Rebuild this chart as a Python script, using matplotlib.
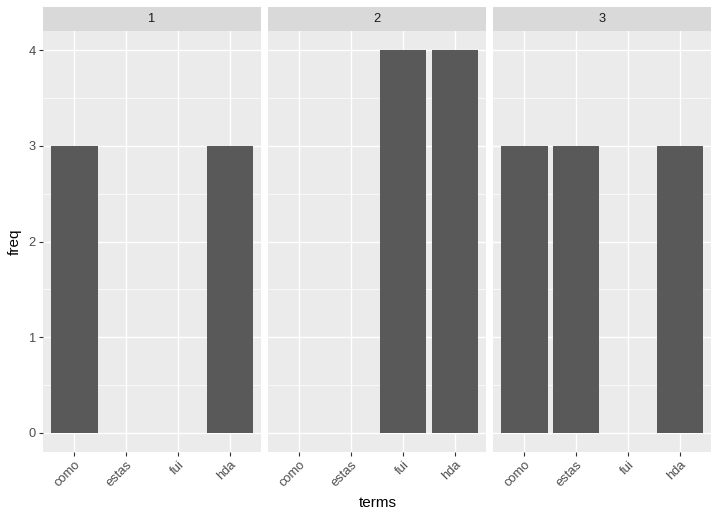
import matplotlib
matplotlib.use("Agg")
import matplotlib.pyplot as plt
import numpy as np

plt.rcParams['font.family'] = ['Liberation Sans', 'DejaVu Sans']

terms = ["como", "estas", "fui", "hda"]
panels = ["1", "2", "3"]
freq = {
    "1": [3, 0, 0, 3],
    "2": [0, 0, 4, 4],
    "3": [3, 3, 0, 3],
}

W, H = 720, 515
fig = plt.figure(figsize=(W / 100, H / 100), dpi=100)

lefts = [43, 268, 493]
pw = 218
ptop, pbot = 31, 452
strip_top = 7
grey = "#4D4D4D"

for i, p in enumerate(panels):
    ax = fig.add_axes([lefts[i] / W, (H - pbot) / H, pw / W, (pbot - ptop) / H])
    ax.set_facecolor("#EBEBEB")
    x = np.arange(1, len(terms) + 1)
    vals = freq[p]
    ax.set_xlim(0.4, 4.6)
    ax.set_ylim(-0.2, 4.2)
    for yy in np.arange(0.5, 4.0, 1.0):
        ax.axhline(yy, color="white", lw=0.5, zorder=0)
    for yy in range(0, 5):
        ax.axhline(yy, color="white", lw=1.0, zorder=0)
    for xx in x:
        ax.axvline(xx, color="white", lw=1.0, zorder=0)
    ax.bar(x, vals, width=0.9, color="#595959", zorder=2)
    ax.set_xticks(x)
    ax.set_xticklabels(terms, rotation=45, ha="right", va="top",
                       rotation_mode="anchor", color=grey, fontsize=9.3)
    ax.set_yticks(range(0, 5))
    if i == 0:
        ax.set_yticklabels([str(v) for v in range(0, 5)], color=grey, fontsize=9.3)
    else:
        ax.set_yticklabels([])
    ax.tick_params(axis="both", color="#333333", length=3, width=0.8, pad=2)
    if i != 0:
        ax.tick_params(axis="y", length=0)
    for s in ax.spines.values():
        s.set_visible(False)
    # strip
    sax = fig.add_axes([lefts[i] / W, (H - ptop) / H, pw / W, (ptop - strip_top) / H])
    sax.set_facecolor("#D9D9D9")
    sax.set_xticks([])
    sax.set_yticks([])
    for s in sax.spines.values():
        s.set_visible(False)
    sax.text(0.5, 0.5, p, ha="center", va="center", fontsize=9.3, color="#1A1A1A",
             transform=sax.transAxes)

fig.text(378 / W, 1 - 503 / H, "terms", ha="center", va="center", fontsize=11, color="black")
fig.text(15 / W, 1 - 242 / H, "freq", ha="center", va="center", rotation=90, fontsize=11, color="black")

fig.savefig("out.png", dpi=100, facecolor="white")
